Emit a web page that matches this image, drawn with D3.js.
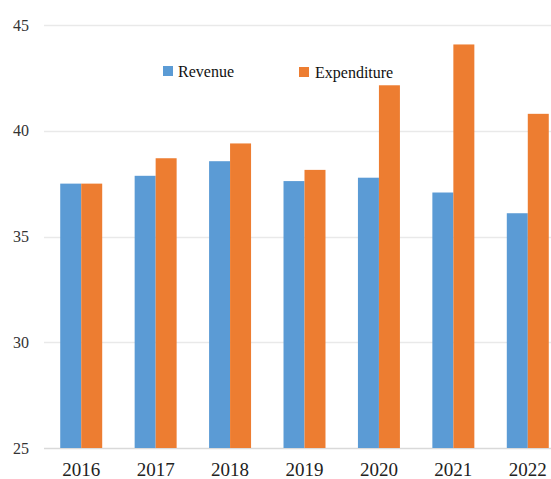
<!DOCTYPE html>
<html>
<head>
<meta charset="utf-8">
<script src="https://cdn.jsdelivr.net/npm/d3@7/dist/d3.min.js"></script>
<style>
  html, body { margin: 0; padding: 0; background: #fff; }
  svg { display: block; }
  text { font-family: "Liberation Serif", "Times New Roman", serif; }
</style>
</head>
<body>
<svg id="chart" width="551" height="479"></svg>
<script>
// Revenue and expenditure by year
const years = ["2016", "2017", "2018", "2019", "2020", "2021", "2022"];
const revenue = [37.5, 37.87, 38.56, 37.62, 37.78, 37.08, 36.1];
const expenditure = [37.5, 38.7, 39.4, 38.15, 42.15, 44.08, 40.8];
const seriesNames = ["Revenue", "Expenditure"];
const seriesColors = ["#5b9bd5", "#ed7d31"];
const yTicks = [25, 30, 35, 40, 45];

const svg = d3.select("#chart");
const plotLeft = 44, plotRight = 565;

const x = d3.scaleBand()
  .domain(years)
  .range([plotLeft, plotRight])
  .paddingInner(0.436)
  .paddingOuter(0.218);

const xSeries = d3.scaleBand()
  .domain(seriesNames)
  .range([0, x.bandwidth()]);

const y = d3.scaleLinear()
  .domain([25, 45])
  .range([448, 25]);

// Horizontal gridlines
svg.append("g")
  .selectAll("line")
  .data(yTicks)
  .join("line")
  .attr("x1", plotLeft)
  .attr("x2", 551)
  .attr("y1", d => Math.round(y(d)) + 0.5)
  .attr("y2", d => Math.round(y(d)) + 0.5)
  .attr("stroke", d => d === 25 ? "#d9d9d9" : "#e9e9e9")
  .attr("stroke-width", 1.5);

// Y tick labels
svg.append("g")
  .selectAll("text")
  .data(yTicks)
  .join("text")
  .attr("x", 29)
  .attr("y", d => y(d))
  .attr("dy", "0.35em")
  .attr("text-anchor", "end")
  .attr("font-size", 16)
  .attr("fill", "#333")
  .text(d => d);

// Bars
const rows = years.map((yr, i) => ({ year: yr, values: [revenue[i], expenditure[i]] }));
const groups = svg.append("g")
  .selectAll("g")
  .data(rows)
  .join("g")
  .attr("transform", d => `translate(${x(d.year)},0)`);

groups.selectAll("rect")
  .data(d => d.values.map((v, k) => ({ name: seriesNames[k], value: v, k })))
  .join("rect")
  .attr("x", d => xSeries(d.name))
  .attr("width", xSeries.bandwidth())
  .attr("y", d => y(d.value))
  .attr("height", d => y(25) - y(d.value))
  .attr("fill", d => seriesColors[d.k]);

// X labels
svg.append("g")
  .selectAll("text")
  .data(years)
  .join("text")
  .attr("x", d => x(d) + x.bandwidth() / 2)
  .attr("y", 476)
  .attr("text-anchor", "middle")
  .attr("font-size", 19)
  .attr("fill", "#222")
  .text(d => d);

// Legend
const legendPos = [{ sx: 163, tx: 178 }, { sx: 299, tx: 315 }];
const legend = svg.append("g")
  .selectAll("g")
  .data(seriesNames)
  .join("g");
legend.append("rect")
  .attr("x", (d, i) => legendPos[i].sx)
  .attr("y", (d, i) => 66 + i)
  .attr("width", 10)
  .attr("height", 10)
  .attr("fill", (d, i) => seriesColors[i]);
legend.append("text")
  .attr("x", (d, i) => legendPos[i].tx)
  .attr("y", (d, i) => 77 + i)
  .attr("font-size", 16)
  .attr("fill", "#111")
  .text(d => d);
</script>
</body>
</html>
